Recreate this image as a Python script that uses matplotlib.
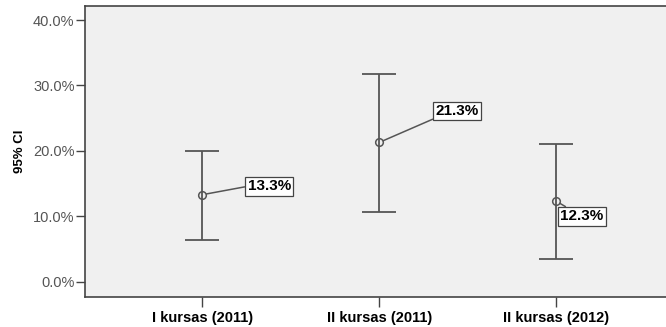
import matplotlib
matplotlib.use("Agg")
import matplotlib.pyplot as plt
from matplotlib.ticker import FuncFormatter

plt.rcParams['font.family'] = ['Liberation Sans', 'DejaVu Sans']

# Groups and 95% confidence intervals (percent)
categories = ["I kursas (2011)", "II kursas (2011)", "II kursas (2012)"]
means = [13.3, 21.3, 12.3]
lower = [6.4, 10.7, 3.4]
upper = [20.0, 31.8, 21.0]
yticks = [0, 10, 20, 30, 40]

# label offsets (points) and where the leader line leaves each box
label_offsets = [(48, 6), (56, 22.6), (18.5, -11)]
label_relpos = [(0.0, 0.5), (0.0, 0.0), (0.23, 1.0)]

fig = plt.figure(figsize=(6.66, 3.27), dpi=100)
ax = fig.add_axes([85 / 666, 1 - 296.7 / 327, 1 - 85 / 666, (296.7 - 6) / 327])
ax.set_facecolor('#f0f0f0')

x = list(range(len(categories)))
err_lo = [m - l for m, l in zip(means, lower)]
err_hi = [u - m for m, u in zip(means, upper)]
ax.errorbar(x, means, yerr=[err_lo, err_hi], fmt='none', ecolor='#555555',
            elinewidth=1.3, capsize=12.5, capthick=1.3, zorder=2)
ax.plot(x, means, linestyle='none', marker='o', markersize=5.5,
        markerfacecolor='none', markeredgecolor='#555555', markeredgewidth=1.1,
        zorder=3)

for xi, m, off, rp in zip(x, means, label_offsets, label_relpos):
    ax.annotate(f"{m:.1f}%", xy=(xi, m), xytext=off, textcoords='offset points',
                ha='center', va='center', fontsize=11, fontweight='bold',
                bbox=dict(boxstyle='square,pad=0.16', facecolor='white',
                          edgecolor='#444444', linewidth=0.9),
                arrowprops=dict(arrowstyle='-', color='#555555', lw=1.1,
                                relpos=rp, shrinkA=0, shrinkB=3),
                zorder=4)

ax.set_xlim(-0.664, 2.62)
ax.set_ylim(-2.3, 42.15)
ax.set_xticks(x)
ax.set_xticklabels(categories, fontsize=10.5, fontweight='bold')
ax.set_yticks(yticks)
ax.yaxis.set_major_formatter(FuncFormatter(lambda v, p: f"{v:.1f}%"))
ax.tick_params(axis='y', labelsize=10.5, labelcolor='#555555', length=6.5,
               color='#444444', width=1, pad=1)
ax.tick_params(axis='x', length=7, color='#444444', width=1, pad=3)
ax.set_ylabel("95% CI", fontsize=9.5, fontweight='bold', labelpad=5)

for side in ['left', 'top', 'bottom']:
    ax.spines[side].set_color('#444444')
    ax.spines[side].set_linewidth(1.2)
ax.spines['right'].set_visible(False)

fig.savefig('out.png', dpi=100, facecolor='white')
